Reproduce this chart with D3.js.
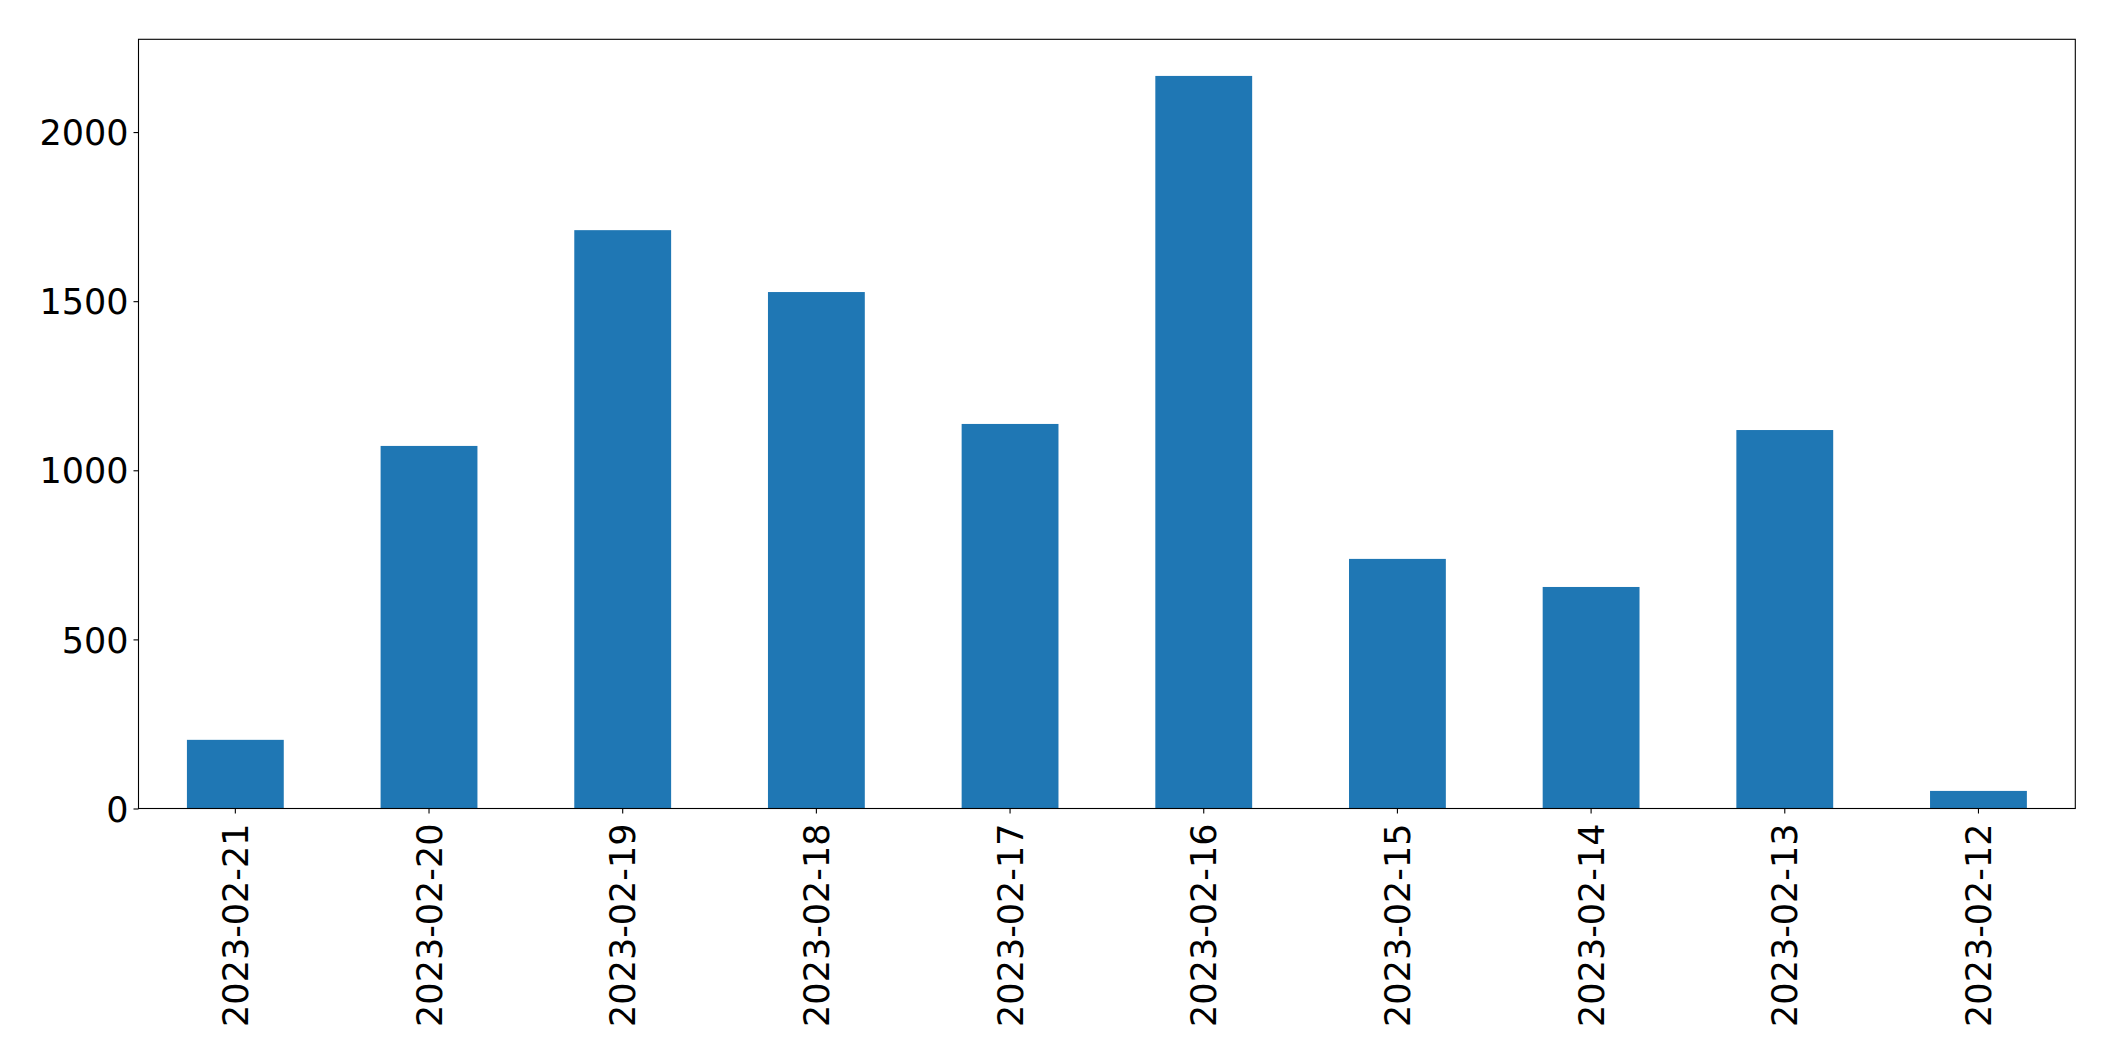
<!DOCTYPE html>
<html>
<head>
<meta charset="utf-8">
<script src="https://cdn.jsdelivr.net/npm/d3@7"></script>
<style>
  html, body { margin: 0; padding: 0; background: #fff; }
  svg { display: block; }
  text { font-family: "DejaVu Sans", sans-serif; fill: #000; }
</style>
</head>
<body>
<svg id="chart" width="2115" height="1061"></svg>
<script>
const categories = ["2023-02-21","2023-02-20","2023-02-19","2023-02-18","2023-02-17","2023-02-16","2023-02-15","2023-02-14","2023-02-13","2023-02-12"];
const values = [203, 1072, 1710, 1527, 1137, 2166, 738, 655, 1119, 52];
const yTicks = [0, 500, 1000, 1500, 2000];

(function () {
const svg = d3.select("#chart");
const mLeft = 138.5, mRight = 2075.3, mTop = 39.3, mBottom = 808.5;
const yMax = d3.max(values) * 1.05;

const x = d3.scaleBand().domain(categories).range([mLeft, mRight]).paddingInner(0.5).paddingOuter(0.25);
const y = d3.scaleLinear().domain([0, yMax]).range([mBottom, mTop]);

svg.append("g").selectAll("rect").data(values).join("rect")
  .attr("x", (d, i) => x(categories[i]))
  .attr("width", x.bandwidth())
  .attr("y", d => y(d))
  .attr("height", d => y(0) - y(d))
  .attr("fill", "#1f77b4");

const fs = 35;
const yAxis = svg.append("g").attr("transform", `translate(${mLeft},0)`)
  .call(d3.axisLeft(y).tickValues(yTicks).tickFormat(d3.format("d")).tickSize(5).tickPadding(5));
yAxis.select(".domain").remove();
yAxis.selectAll("line").attr("stroke", "#000").attr("stroke-width", 1.1);
yAxis.selectAll("text").style("font-size", fs + "px").attr("font-family", "DejaVu Sans").attr("dy", "0.36em");

const xAxis = svg.append("g").attr("transform", `translate(0,${mBottom})`)
  .call(d3.axisBottom(x).tickSize(5).tickPadding(5));
xAxis.select(".domain").remove();
xAxis.selectAll("line").attr("stroke", "#000").attr("stroke-width", 1.1);
xAxis.selectAll("text")
  .style("font-size", fs + "px")
  .attr("font-family", "DejaVu Sans")
  .attr("transform", "rotate(-90)")
  .attr("text-anchor", "end")
  .attr("x", -15)
  .attr("y", 0)
  .attr("dy", "0.36em");

svg.append("rect")
  .attr("x", mLeft).attr("y", mTop)
  .attr("width", mRight - mLeft).attr("height", mBottom - mTop)
  .attr("fill", "none").attr("stroke", "#000").attr("stroke-width", 1.1);
})();
</script>
</body>
</html>
